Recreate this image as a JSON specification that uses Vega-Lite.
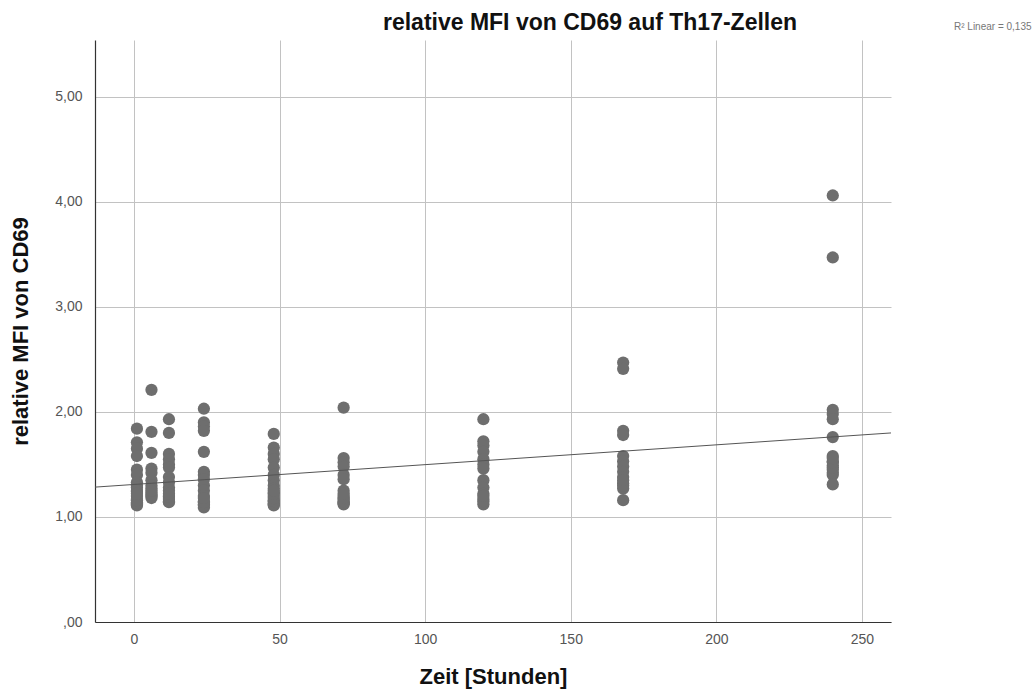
{
  "$schema": "https://vega.github.io/schema/vega-lite/v6.json",
  "width": 796,
  "height": 582,
  "autosize": "none",
  "padding": {"left": 95, "top": 40, "right": 143, "bottom": 71},
  "background": "white",
  "title": {"text": "relative MFI von CD69 auf Th17-Zellen", "fontSize": 23, "fontWeight": "bold", "font": "Liberation Sans", "color": "#111111", "anchor": "middle", "dx": 97, "offset": -13},
  "config": {
    "view": {"stroke": null},
    "axis": {"gridColor": "#c2c2c2", "gridWidth": 1, "domainColor": "#333333", "domainWidth": 1.2, "ticks": false, "labelFontSize": 14, "labelColor": "#555555", "labelFont": "Liberation Sans", "titleFont": "Liberation Sans", "titleFontSize": 22, "titleFontWeight": "bold", "titleColor": "#111111"}
  },
  "data": {"values": [
    {"x": 1, "y": 1.84}, {"x": 1, "y": 1.71}, {"x": 1, "y": 1.65}, {"x": 1, "y": 1.58}, {"x": 1, "y": 1.45}, {"x": 1, "y": 1.40}, {"x": 1, "y": 1.33}, {"x": 1, "y": 1.30}, {"x": 1, "y": 1.28}, {"x": 1, "y": 1.25}, {"x": 1, "y": 1.24}, {"x": 1, "y": 1.20}, {"x": 1, "y": 1.17}, {"x": 1, "y": 1.14}, {"x": 1, "y": 1.12}, {"x": 1, "y": 1.11}, {"x": 1, "y": 1.13}, {"x": 1, "y": 1.16}, {"x": 1, "y": 1.22},
    {"x": 6, "y": 2.21}, {"x": 6, "y": 1.81}, {"x": 6, "y": 1.61}, {"x": 6, "y": 1.46}, {"x": 6, "y": 1.42}, {"x": 6, "y": 1.35}, {"x": 6, "y": 1.30}, {"x": 6, "y": 1.27}, {"x": 6, "y": 1.23}, {"x": 6, "y": 1.20}, {"x": 6, "y": 1.18}, {"x": 6, "y": 1.21}, {"x": 6, "y": 1.25},
    {"x": 12, "y": 1.93}, {"x": 12, "y": 1.80}, {"x": 12, "y": 1.60}, {"x": 12, "y": 1.55}, {"x": 12, "y": 1.50}, {"x": 12, "y": 1.47}, {"x": 12, "y": 1.38}, {"x": 12, "y": 1.33}, {"x": 12, "y": 1.28}, {"x": 12, "y": 1.25}, {"x": 12, "y": 1.20}, {"x": 12, "y": 1.17}, {"x": 12, "y": 1.14}, {"x": 12, "y": 1.15}, {"x": 12, "y": 1.19}, {"x": 12, "y": 1.22},
    {"x": 24, "y": 2.03}, {"x": 24, "y": 1.90}, {"x": 24, "y": 1.86}, {"x": 24, "y": 1.82}, {"x": 24, "y": 1.62}, {"x": 24, "y": 1.43}, {"x": 24, "y": 1.40}, {"x": 24, "y": 1.36}, {"x": 24, "y": 1.30}, {"x": 24, "y": 1.25}, {"x": 24, "y": 1.20}, {"x": 24, "y": 1.15}, {"x": 24, "y": 1.12}, {"x": 24, "y": 1.09}, {"x": 24, "y": 1.11}, {"x": 24, "y": 1.14}, {"x": 24, "y": 1.18},
    {"x": 48, "y": 1.79}, {"x": 48, "y": 1.66}, {"x": 48, "y": 1.60}, {"x": 48, "y": 1.55}, {"x": 48, "y": 1.47}, {"x": 48, "y": 1.40}, {"x": 48, "y": 1.35}, {"x": 48, "y": 1.30}, {"x": 48, "y": 1.27}, {"x": 48, "y": 1.23}, {"x": 48, "y": 1.20}, {"x": 48, "y": 1.16}, {"x": 48, "y": 1.13}, {"x": 48, "y": 1.11}, {"x": 48, "y": 1.12}, {"x": 48, "y": 1.15}, {"x": 48, "y": 1.18}, {"x": 48, "y": 1.22}, {"x": 48, "y": 1.25},
    {"x": 72, "y": 2.04}, {"x": 72, "y": 1.56}, {"x": 72, "y": 1.52}, {"x": 72, "y": 1.48}, {"x": 72, "y": 1.40}, {"x": 72, "y": 1.36}, {"x": 72, "y": 1.25}, {"x": 72, "y": 1.20}, {"x": 72, "y": 1.17}, {"x": 72, "y": 1.14}, {"x": 72, "y": 1.12}, {"x": 72, "y": 1.13}, {"x": 72, "y": 1.15}, {"x": 72, "y": 1.18}, {"x": 72, "y": 1.22},
    {"x": 120, "y": 1.93}, {"x": 120, "y": 1.72}, {"x": 120, "y": 1.68}, {"x": 120, "y": 1.62}, {"x": 120, "y": 1.55}, {"x": 120, "y": 1.50}, {"x": 120, "y": 1.46}, {"x": 120, "y": 1.35}, {"x": 120, "y": 1.28}, {"x": 120, "y": 1.22}, {"x": 120, "y": 1.17}, {"x": 120, "y": 1.12}, {"x": 120, "y": 1.15}, {"x": 120, "y": 1.20},
    {"x": 168, "y": 2.47}, {"x": 168, "y": 2.41}, {"x": 168, "y": 1.82}, {"x": 168, "y": 1.78}, {"x": 168, "y": 1.58}, {"x": 168, "y": 1.53}, {"x": 168, "y": 1.48}, {"x": 168, "y": 1.43}, {"x": 168, "y": 1.38}, {"x": 168, "y": 1.32}, {"x": 168, "y": 1.27}, {"x": 168, "y": 1.16}, {"x": 168, "y": 1.30}, {"x": 168, "y": 1.35},
    {"x": 240, "y": 4.06}, {"x": 240, "y": 3.47}, {"x": 240, "y": 2.02}, {"x": 240, "y": 1.98}, {"x": 240, "y": 1.93}, {"x": 240, "y": 1.76}, {"x": 240, "y": 1.58}, {"x": 240, "y": 1.53}, {"x": 240, "y": 1.49}, {"x": 240, "y": 1.45}, {"x": 240, "y": 1.40}, {"x": 240, "y": 1.31}, {"x": 240, "y": 1.42}, {"x": 240, "y": 1.47}, {"x": 240, "y": 1.52}, {"x": 240, "y": 1.56}
  ]},
  "encoding": {
    "x": {"field": "x", "type": "quantitative", "scale": {"domain": [-13.4, 260], "nice": false, "zero": false},
      "axis": {"values": [0, 50, 100, 150, 200, 250], "title": "Zeit [Stunden]", "labelPadding": 10, "titlePadding": 20}},
    "y": {"field": "y", "type": "quantitative", "scale": {"domain": [0, 5.54], "nice": false},
      "axis": {"values": [0, 1, 2, 3, 4, 5], "title": "relative MFI von CD69", "labelPadding": 13, "titlePadding": 22,
        "labelExpr": "datum.value == 0 ? ',00' : replace(format(datum.value, '.2f'), '.', ',')"}}
  },
  "layer": [
    {"mark": {"type": "circle", "size": 150, "color": "#6e6e6e", "opacity": 1}},
    {"transform": [{"regression": "y", "on": "x", "extent": [-13.4, 260]}],
     "mark": {"type": "line", "strokeWidth": 1, "clip": true},
     "encoding": {
       "color": {"datum": "R² Linear = 0,135", "scale": {"range": ["#555555"]},
         "legend": {"title": null, "orient": "none", "legendX": 849, "legendY": -18, "symbolSize": 0, "symbolOpacity": 0, "labelFontSize": 10, "labelColor": "#777777", "labelFont": "Liberation Sans", "labelOffset": 0, "symbolStrokeWidth": 0}}
     }}
  ]
}
